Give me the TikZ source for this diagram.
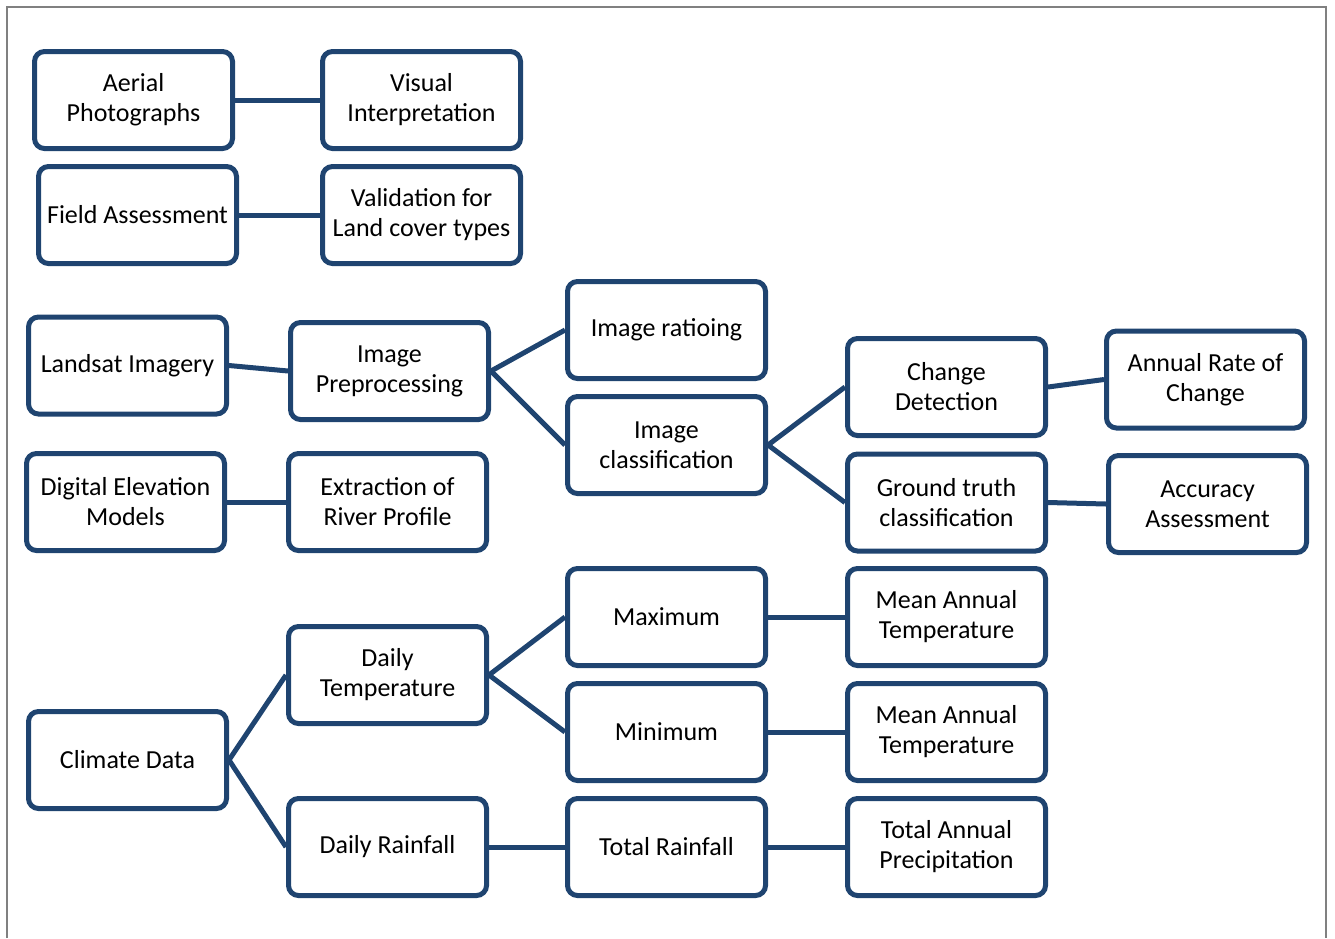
\documentclass[tikz,border=0pt]{standalone}
\usepackage{fontspec}
\setmainfont{Carlito}
\definecolor{boxblue}{HTML}{1F4470}

\begin{document}
\begin{tikzpicture}[x=1pt,y=-1pt,font=\fontsize{26}{30}\selectfont,
    box/.style={draw=boxblue,line width=5pt,rounded corners=10pt,align=center,
                minimum width=198pt,minimum height=97pt,inner sep=0pt},
    link/.style={draw=boxblue,line width=5pt}]
            \useasboundingbox (0,0) rectangle (1335,938);
            % frame
            \draw[gray,line width=1.5pt] (7,938) -- (7,7) -- (1326,7) -- (1326,938);

            % aerial photographs and field work
            \node[box] (aerial) at (133.5,100) {Aerial\\Photographs};
            \node[box] (visual) at (421.5,100) {Visual\\Interpretation};
            \node[box] (field) at (137.5,215) {Field Assessment};
            \node[box] (valid) at (421.5,215) {Validation for\\Land cover types};

            % landsat
            \node[box] (landsat) at (127.5,365.5) {Landsat Imagery};
            \node[box] (prep) at (389.5,371) {Image\\Preprocessing};
            \node[box] (ratio) at (666.5,330) {Image ratioing};
            \node[box] (class) at (666.5,445) {Image\\classification};
            \node[box] (change) at (946.5,387) {Change\\Detection};
            \node[box] (rate) at (1205.5,379.5) {Annual Rate of\\Change};
            \node[box] (truth) at (946.5,502.5) {Ground truth\\classification};
            \node[box] (accur) at (1207.5,504) {Accuracy\\Assessment};

            % elevation
            \node[box] (dem) at (125.5,502) {Digital Elevation\\Models};
            \node[box] (river) at (387.5,502) {Extraction of\\River Profile};

            % climate
            \node[box] (climate) at (127.5,760) {Climate Data};
            \node[box] (dtemp) at (387.5,675) {Daily\\Temperature};
            \node[box] (drain) at (387.5,847) {Daily Rainfall};
            \node[box] (tmax) at (666.5,617) {Maximum};
            \node[box] (tmin) at (666.5,732) {Minimum};
            \node[box] (train) at (666.5,847) {Total Rainfall};
            \node[box] (meanmax) at (946.5,617) {Mean Annual\\Temperature};
            \node[box] (meanmin) at (946.5,732) {Mean Annual\\Temperature};
            \node[box] (precip) at (946.5,847) {Total Annual\\Precipitation};

            % links
            \draw[link] (aerial) -- (visual);
            \draw[link] (field) -- (valid);
            \draw[link] (landsat.east) -- (prep.west);
            \draw[link] (prep.east) -- (ratio.west);
            \draw[link] (prep.east) -- (class.west);
            \draw[link] (class.east) -- (change.west);
            \draw[link] (class.east) -- (truth.west);
            \draw[link] (change.east) -- (rate.west);
            \draw[link] (truth.east) -- (accur.west);
            \draw[link] (dem) -- (river);
            \draw[link] (climate.east) -- (dtemp.west);
            \draw[link] (climate.east) -- (drain.west);
            \draw[link] (dtemp.east) -- (tmax.west);
            \draw[link] (dtemp.east) -- (tmin.west);
            \draw[link] (tmax) -- (meanmax);
            \draw[link] (tmin) -- (meanmin);
            \draw[link] (drain) -- (train);
            \draw[link] (train) -- (precip);
        \end{tikzpicture}
\end{document}
